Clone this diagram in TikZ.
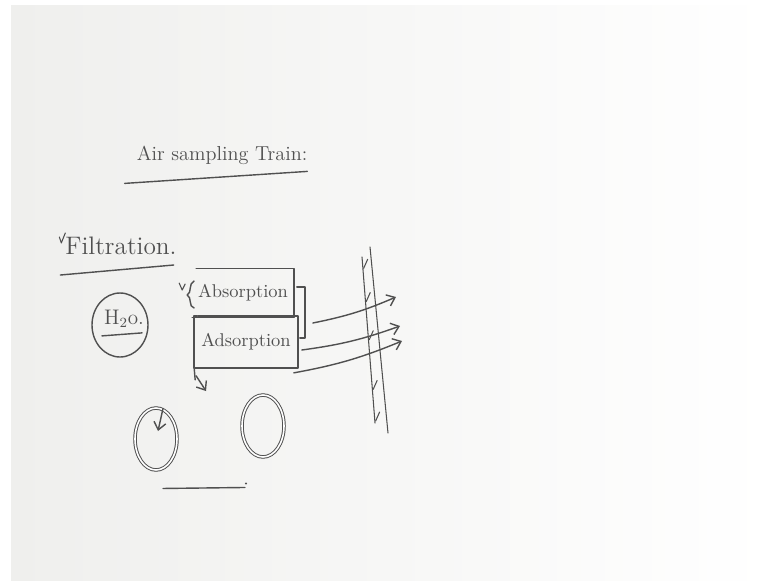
\documentclass[tikz,border=0pt]{standalone}
\usetikzlibrary{
  arrows.meta,
  calc,
  positioning,
  shapes.geometric
}
\definecolor{ink}{HTML}{505050}
\definecolor{board}{HTML}{EFEFED}
\tikzset{
  pen/.style={draw=ink, line width=0.8pt, line cap=round, line join=round},
  hand/.style={text=ink, inner sep=1pt},
  labelbox/.style={hand, inner sep=2pt, minimum width=2.02cm},
  ring/.style={
    draw=ink,
    ellipse,
    line width=0.55pt,
    double=white,
    double distance=0.9pt,
    minimum width=0.84cm,
    minimum height=1.24cm
  },
  flow/.style={pen, -{Straight Barb[length=1.5mm, width=2.4mm]}},
  slash/.style={pen, line width=0.6pt}
}

\begin{document}
\begin{tikzpicture}[x=0.02cm, y=-0.02cm]
  \useasboundingbox (0,0) rectangle (770,581);
  % whiteboard
  \shade[left color=board, right color=white] (11,6) rectangle (770,580);

  % heading
  \node[hand, font=\fontsize{11.5}{13}\selectfont] (title) at (222,155)
    {Air sampling Train:};
  \draw[pen] ($(title.south west)+(-10,17)$) -- ($(title.south east)+(-2,5)$);

  \node[hand, font=\Large] (filter) at (121,246) {Filtration.};
  \draw[pen] ($(filter.south west)+(-3,18)$) -- ($(filter.south east)+(-5,8)$);
  \draw[slash] ($(filter.north west)+(-4,2)$) -- ++(2,6) -- ++(4,-10);

  % water
  \node[ring, double=none, line width=0.8pt, minimum width=1.12cm,
    minimum height=1.28cm] (water) at (120,325) {};
  \node[hand, font=\large] (h2o) at (124,319) {H$_2$o.};
  \draw[pen] ($(h2o.south west)+(0,6)$) -- ($(h2o.south east)+(-4,3)$);

  % sorption boxes
  \node[labelbox, font=\fontsize{10.5}{12}\selectfont, minimum height=0.96cm]
    (absorb) at (243,293) {Absorption};
  \node[labelbox, font=\fontsize{10.5}{12}\selectfont, minimum width=2.06cm,
    minimum height=1.02cm] (adsorb) at (246,342) {Adsorption};
  \draw[pen] (absorb.south west) -- (absorb.south east)
    -- (absorb.north east) -- ($(absorb.north west)+(4,0)$);
  \draw[pen] ($(absorb.west)+(2,-12)$)
    .. controls ($(absorb.west)+(-4,-10)$) and ($(absorb.west)+(0,0)$) .. ($(absorb.west)+(-5,2)$)
    .. controls ($(absorb.west)+(0,4)$) and ($(absorb.west)+(-4,14)$) .. ($(absorb.west)+(2,15)$);
  \draw[slash] ($(absorb.west)+(-13,-10)$) -- ++(3,7) -- ++(3,-6);
  \draw[pen] ($(adsorb.north west)+(4,0)$) -- (adsorb.north east)
    -- (adsorb.south east) -- (adsorb.south west) -- (adsorb.north west)
    -- ++(3,0);
  \draw[pen] (adsorb.south west) -- ++(1,12);

  % bracket round both
  \draw[pen] ($(absorb.east)+(3,-6)$) -- ++(8,0)
    |- ($(adsorb.east)+(2,-4)$);
  \coordinate (join) at ($(absorb.east)+(19,30)$);

  % filter wall
  \coordinate (wallA) at (362,257);
  \coordinate (wallB) at (375,423);
  \coordinate (wallC) at (370,247);
  \coordinate (wallD) at (388,433);
  \draw[pen, line width=0.6pt] (wallA) -- (wallB);
  \draw[pen, line width=0.6pt] (wallC) -- (wallD);
  \foreach \t in {0.05,0.25,0.48,0.78,0.97}
    \draw[slash] ($(wallA)!\t!(wallB)+(1,3)$) -- ++(4,-9);

  % gas leaving through the wall
  \coordinate (out1) at (396,297);
  \coordinate (out2) at (400,326);
  \coordinate (out3) at (402,341);
  \draw[flow] (join) to[bend right=6] (out1);
  \draw[flow] ($(adsorb.east)+(4,8)$) to[bend right=6] (out2);
  \draw[flow] ($(adsorb.south east)+(-4,5)$) to[bend right=6] (out3);

  % collectors
  \node[ring] (cup1) at (156,439) {};
  \node[ring] (cup2) at (263,426) {};
  \coordinate (drop) at (206,391);
  \draw[flow] ($(adsorb.south west)+(2,8)$) -- (drop);
  \draw[flow] ($(cup1.north)+(7,1)$) -- ($(cup1.center)+(2,-8)$);
  \draw[pen] ($(cup1.south)+(7,18)$) -- ($(cup2.south)+(-18,30)$);
  \fill[ink] ($(cup2.south)+(-17,26)$) circle (1.2);
\end{tikzpicture}
\end{document}
